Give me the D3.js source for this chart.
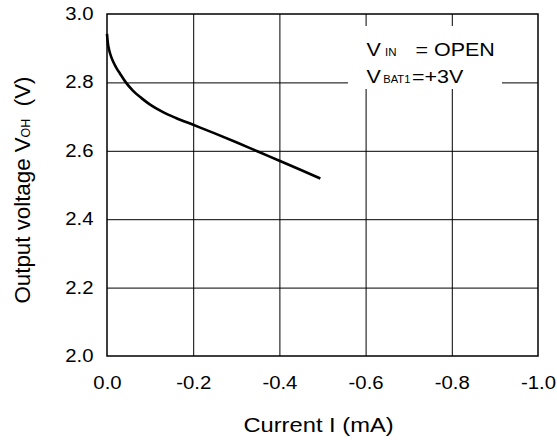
<!DOCTYPE html>
<html>
<head>
<meta charset="utf-8">
<script src="https://cdn.jsdelivr.net/npm/d3@7"></script>
<style>
  html, body { margin: 0; padding: 0; background: #fff; }
  svg { display: block; font-family: "Liberation Sans", Arial, sans-serif; font-weight: normal; }
</style>
</head>
<body>
<svg id="chart" width="557" height="440"></svg>
<script>
// ---- data ----
const currentI = [0, -0.002, -0.005, -0.01, -0.015, -0.022, -0.03, -0.042, -0.06, -0.08, -0.1, -0.13, -0.16, -0.2, -0.25, -0.3, -0.35, -0.4, -0.45, -0.495];
const voltageV = [2.942, 2.915, 2.895, 2.874, 2.859, 2.842, 2.826, 2.803, 2.776, 2.754, 2.735, 2.713, 2.696, 2.676, 2.651, 2.625, 2.598, 2.571, 2.544, 2.519];
const xTicks = [0, -0.2, -0.4, -0.6, -0.8, -1.0];
const xTickLabels = ["0.0", "-0.2", "-0.4", "-0.6", "-0.8", "-1.0"];
const yTicks = [2.0, 2.2, 2.4, 2.6, 2.8, 3.0];
const yTickLabels = ["2.0", "2.2", "2.4", "2.6", "2.8", "3.0"];
const xTitle = "Current I (mA)";
const yTitleMain = "Output voltage V";
const yTitleSub = "OH";
const yTitleUnit = "  (V)";
const legendLine1 = ["V", "IN", "= OPEN"];
const legendLine2 = ["V", "BAT1", "=+3V"];

// ---- layout ----
const L = 107, R = 538, T = 14, B = 356;
const SX = 1.13;
const svg = d3.select("#chart");
const x = d3.scaleLinear().domain([0, -1]).range([L, R]);
const y = d3.scaleLinear().domain([2, 3]).range([B, T]);

// grid
svg.append("g").attr("transform", `translate(0,${B})`)
  .call(d3.axisBottom(x).tickValues(xTicks.slice(1, -1)).tickSize(-(B - T)).tickFormat(""))
  .call(g => g.select(".domain").remove())
  .call(g => g.selectAll("line").attr("stroke", "#000").attr("stroke-width", 1));
svg.append("g").attr("transform", `translate(${L},0)`)
  .call(d3.axisLeft(y).tickValues(yTicks.slice(1, -1)).tickSize(-(R - L)).tickFormat(""))
  .call(g => g.select(".domain").remove())
  .call(g => g.selectAll("line").attr("stroke", "#000").attr("stroke-width", 1));

// legend background
svg.append("rect").attr("x", 348).attr("y", 26).attr("width", 154).attr("height", 63).attr("fill", "#fff");

function stretchText(xp, yp, str, size, anchor, sx) {
  const s = sx === undefined ? SX : sx;
  return svg.append("text")
    .attr("transform", `translate(${xp},${yp}) scale(${s},1)`)
    .attr("font-size", size)
    .attr("text-anchor", anchor || "start")
    .attr("fill", "#000")
    .text(str);
}

// legend
stretchText(366.5, 55.7, legendLine1[0], 19);
stretchText(385, 55.7, legendLine1[1], 11.5, "start", 1);
stretchText(415.5, 55.7, legendLine1[2], 19);
stretchText(366.5, 83.3, legendLine2[0], 19);
stretchText(383.3, 83.3, legendLine2[1], 11.5, "start", 0.97);
stretchText(412, 83.3, legendLine2[2], 19);

// curve
const line = d3.line().x(d => x(d[0])).y(d => y(d[1])).curve(d3.curveMonotoneX);
svg.append("path")
  .datum(currentI.map((c, i) => [c, voltageV[i]]))
  .attr("d", line)
  .attr("fill", "none")
  .attr("stroke", "#000")
  .attr("stroke-width", 2.6)
  .attr("stroke-linejoin", "round");

// frame
svg.append("rect").attr("x", L).attr("y", T).attr("width", R - L).attr("height", B - T)
  .attr("fill", "none").attr("stroke", "#000").attr("stroke-width", 1.5);

// x axis labels
svg.append("g").attr("transform", `translate(0,${B})`)
  .call(d3.axisBottom(x).tickValues(xTicks).tickFormat((d, i) => xTickLabels[i]).tickSize(0))
  .call(g => g.select(".domain").remove())
  .call(g => g.selectAll("text")
    .attr("dy", null).attr("y", 33)
    .attr("font-size", 18).attr("fill", "#000")
    .attr("transform", `scale(${SX},1)`));

// y axis labels
svg.append("g").attr("transform", `translate(${L},0)`)
  .call(d3.axisLeft(y).tickValues(yTicks).tickFormat((d, i) => yTickLabels[i]).tickSize(0))
  .call(g => g.select(".domain").remove())
  .call(g => g.selectAll("text")
    .attr("dy", null).attr("y", 5.5).attr("x", -(L - 93.5) / SX)
    .attr("font-size", 18).attr("fill", "#000")
    .attr("transform", `scale(${SX},1)`));
svg.selectAll("g").attr("font-family", null);

// x title
stretchText((L + R) / 2 - 4, 432.3, xTitle, 21, "middle");

// y title
const yt = svg.append("text")
  .attr("transform", `translate(29.5,303.5) rotate(-90)`)
  .attr("font-size", 22.3).attr("fill", "#000");
yt.append("tspan").text(yTitleMain);
yt.append("tspan").attr("font-size", 12.5).text(yTitleSub);
yt.append("tspan").style("white-space", "pre").text(yTitleUnit);
</script>
</body>
</html>
